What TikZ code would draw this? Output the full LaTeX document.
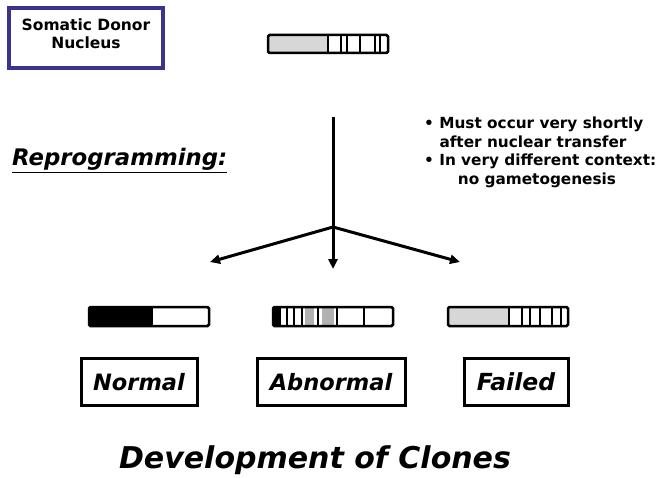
\documentclass[tikz,border=0pt]{standalone}
\usepackage{fontspec}
\setmainfont{DejaVu Sans}
\usetikzlibrary{arrows.meta}
\definecolor{donorblue}{RGB}{58,52,140}
\definecolor{barfill}{RGB}{215,215,215}
\begin{document}
\begin{tikzpicture}[
    x=1pt, y=-1pt,
    donor/.style={rectangle, draw=donorblue, line width=3.5pt, minimum width=154pt, minimum height=60pt, align=center, text depth=8pt, font=\fontsize{15.5}{18}\selectfont\bfseries},
    outcome/.style={rectangle, draw, line width=3pt, minimum height=47pt, inner sep=0pt, font=\fontsize{22.5}{26}\selectfont\bfseries\itshape},
    bar/.style={draw, line width=2.5pt, rounded corners=1.5pt},
    stripe/.style={line width=2.5pt},
    arrow/.style={-{Triangle[length=10pt,width=9pt]}, line width=3pt}
]
\useasboundingbox (0,0) rectangle (660,478);

% Donor nucleus
\node[donor] (donor) at (86,38) {Somatic Donor\\Nucleus};

% Donor bar
\fill[barfill] (268,35) rectangle (328,53);
\foreach \x in {328,341,347,360,375,380}
    \draw[stripe] (\x,35) -- (\x,53);
\draw[bar] (268,35) rectangle (388,53);

% Reprogramming text
\node[anchor=base west, inner sep=0pt, font=\fontsize{22.8}{27}\selectfont\bfseries\itshape] (reprog) at (12,166) {\underline{Reprogramming:}};
\node[anchor=north west, inner sep=0pt, align=left, font=\fontsize{15.3}{18.5}\selectfont\bfseries] (notes) at (424,117)
    {\textbullet\ Must occur very shortly\\
     \hspace*{1em}after nuclear transfer\\
     \textbullet\ In very different context:\\
     \hspace*{2.2em}no gametogenesis};

% Arrows
\coordinate (top) at (333,117);
\coordinate (fork) at (333,227);
\coordinate (tipL) at (210,262);
\coordinate (tipC) at (333,269);
\coordinate (tipR) at (460,262);
\draw[arrow] (top) -- (tipC);
\draw[arrow] (fork) -- (tipL);
\draw[arrow] (fork) -- (tipR);

% Outcome bars
\fill (89,307) rectangle (153,326);
\draw[bar] (89,307) rectangle (209,326);

\fill[gray!60] (305,307) rectangle (314,326);
\fill[gray!60] (322,307) rectangle (334,326);
\foreach \x in {280,287,294,302,318,337,364}
    \draw[stripe] (\x,307) -- (\x,326);
\fill (273,307) rectangle (279,326);
\draw[bar] (273,307) rectangle (393,326);

\fill[barfill] (448,307) rectangle (509,326);
\foreach \x in {509,522,530,540,552,561}
    \draw[stripe] (\x,307) -- (\x,326);
\draw[bar] (448,307) rectangle (568,326);

% Outcome boxes
\node[outcome, minimum width=116pt] (normal) at (139,382) {Normal};
\node[outcome, minimum width=148pt] (abnormal) at (331,382) {Abnormal};
\node[outcome, minimum width=104pt, font=\fontsize{23.5}{27}\selectfont\bfseries\itshape] (failed) at (516,382) {Failed};

% Title
\node[font=\fontsize{30}{36}\selectfont\bfseries\itshape] (title) at (315,460) {Development of Clones};
\end{tikzpicture}
\end{document}
